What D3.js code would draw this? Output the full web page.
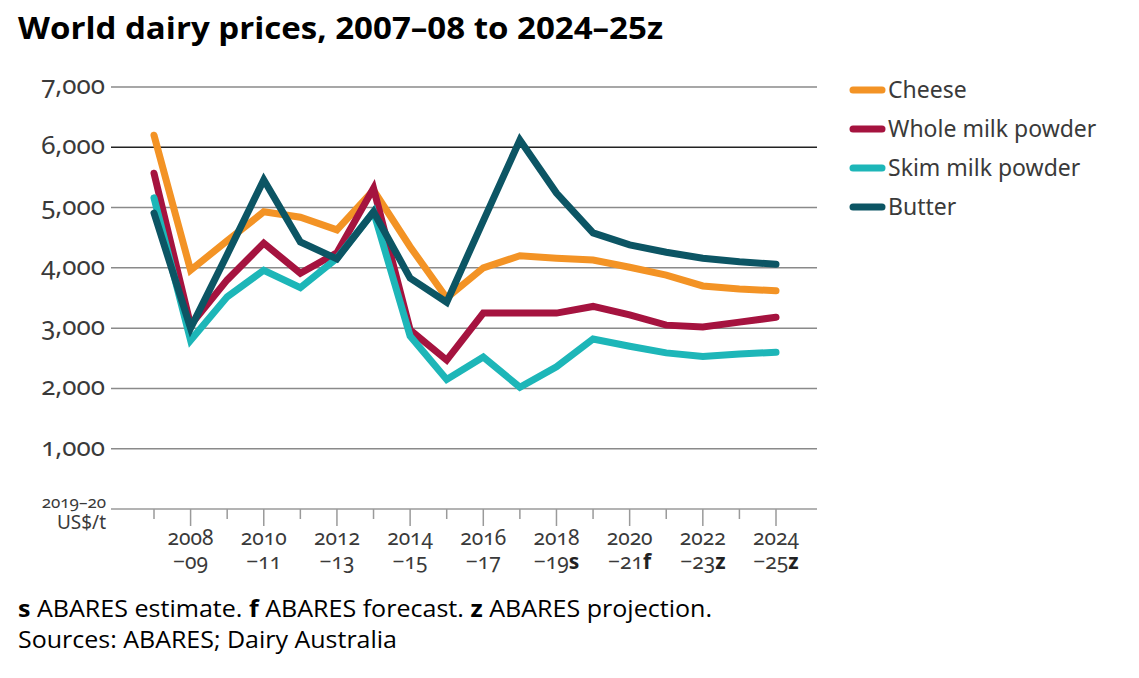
<!DOCTYPE html>
<html><head><meta charset="utf-8">
<script src="https://cdn.jsdelivr.net/npm/d3@7"></script>
<style>
body{margin:0;background:#fff;}
svg{display:block;}
.ax{font-family:"Noto Sans",Lato,sans-serif;fill:#3a3a3a;font-variant-numeric:oldstyle-nums;font-feature-settings:"onum" 1;}
.lg{font-family:"Noto Sans",sans-serif;fill:#3a3a3a;}
</style></head>
<body><svg id="c" width="1139" height="678"></svg>
<script>
const years = ["2007–08","2008–09","2009–10","2010–11","2011–12","2012–13","2013–14","2014–15","2015–16","2016–17","2017–18","2018–19","2019–20","2020–21","2021–22","2022–23","2023–24","2024–25"];
const tickTop = ["2008","2010","2012","2014","2016","2018","2020","2022","2024"];
const tickBottom = ["−09","−11","−13","−15","−17","−19","−21","−23","−25"];
const tickSuffix = ["","","","","","s","f","z","z"];
const yTicks = [1000,2000,3000,4000,5000,6000,7000];
const seriesNames = ["Cheese","Whole milk powder","Skim milk powder","Butter"];
const cheese = [6200,3960,4450,4930,4840,4630,5290,4350,3500,4000,4200,4160,4130,4010,3880,3700,3650,3620];
const wmp    = [5570,3050,3800,4410,3910,4250,5320,2970,2470,3250,3250,3250,3360,3220,3050,3020,3100,3180];
const smp    = [5160,2800,3520,3960,3670,4160,4930,2870,2150,2520,2020,2360,2820,2700,2590,2530,2570,2600];
const butter = [4910,3000,4220,5460,4430,4150,4930,3830,3430,4780,6120,5240,4580,4380,4260,4160,4100,4060];
const colors = ["#F39325","#A5133F","#1DB6B8","#0C5564"];

const svg = d3.select("#c");
const x = d3.scalePoint().domain(years).range([154,776]);
const y = d3.scaleLinear().domain([0,7000]).range([509,87]);

// title
svg.append("text").attr("x",18).attr("y",39)
  .attr("font-family","'Open Sans',sans-serif").attr("font-weight","bold").attr("font-size",30)
  .attr("fill","#000").attr("textLength",645).attr("lengthAdjust","spacingAndGlyphs")
  .text("World dairy prices, 2007–08 to 2024–25z");

// gridlines
svg.append("g").selectAll("line").data(yTicks).join("line")
  .attr("x1",111).attr("x2",817).attr("y1",d=>y(d)).attr("y2",d=>y(d))
  .attr("stroke",d=>d===6000?"#222":"#8a8a8a").attr("stroke-width",1.5);
svg.append("line").attr("x1",111).attr("x2",817).attr("y1",y(0)).attr("y2",y(0))
  .attr("stroke","#9a9a9a").attr("stroke-width",1.5);

// y labels
svg.append("g").selectAll("text").data(yTicks).join("text").attr("class","ax")
  .attr("x",105).attr("y",d=>y(d)+7).attr("text-anchor","end").attr("font-size",26)
  .text(d=>d3.format(",")(d));
const unit = svg.append("text").attr("class","ax").attr("text-anchor","end");
unit.append("tspan").attr("x",106).attr("y",508).attr("font-size",17).text("2019–20");
unit.append("tspan").attr("x",106).attr("y",529).attr("font-size",19).text("US$/t");

// x ticks
svg.append("g").selectAll("line").data(years).join("line")
  .attr("x1",d=>x(d)).attr("x2",d=>x(d)).attr("y1",y(0))
  .attr("y2",(d,i)=>i%2===1?y(0)+17:y(0)+10)
  .attr("stroke","#9a9a9a").attr("stroke-width",1.5);
const labYears = years.filter((d,i)=>i%2===1);
const lt = svg.append("g").selectAll("text").data(labYears).join("text").attr("class","ax")
  .attr("text-anchor","middle").attr("font-size",21);
lt.append("tspan").attr("x",d=>x(d)).attr("y",545).text((d,i)=>tickTop[i]);
lt.append("tspan").attr("x",d=>x(d)).attr("y",569).text((d,i)=>tickBottom[i]);
lt.append("tspan").attr("font-weight","bold").attr("fill","#222").text((d,i)=>tickSuffix[i]);

// lines
const all = [cheese,wmp,smp,butter];
const line = d3.line().x((d,i)=>x(years[i])).y(d=>y(d));
svg.append("g").selectAll("path").data(all).join("path")
  .attr("d",line).attr("fill","none").attr("stroke",(d,i)=>colors[i])
  .attr("stroke-width",7).attr("stroke-linecap","round").attr("stroke-linejoin","miter");

// legend
const leg = svg.append("g").selectAll("g").data(seriesNames).join("g")
  .attr("transform",(d,i)=>`translate(0,${90+i*39})`);
leg.append("line").attr("x1",853).attr("x2",882).attr("stroke",(d,i)=>colors[i]).attr("stroke-width",7).attr("stroke-linecap","round");
leg.append("text").attr("class","lg").attr("x",888).attr("y",8).attr("font-size",23).text(d=>d);

// footnotes
const f1 = svg.append("text").attr("x",18).attr("y",617).attr("font-family","'Open Sans',sans-serif").attr("font-size",24).attr("fill","#000")
  .attr("textLength",694).attr("lengthAdjust","spacingAndGlyphs");
[["s",1],[" ABARES estimate. ",0],["f",1],[" ABARES forecast. ",0],["z",1],[" ABARES projection.",0]].forEach(p=>{
  f1.append("tspan").attr("font-weight",p[1]?"bold":"normal").text(p[0]);
});
svg.append("text").attr("x",18).attr("y",648).attr("font-family","'Open Sans',sans-serif").attr("font-size",24).attr("fill","#000")
  .attr("textLength",379).attr("lengthAdjust","spacingAndGlyphs").text("Sources: ABARES; Dairy Australia");
</script></body></html>
